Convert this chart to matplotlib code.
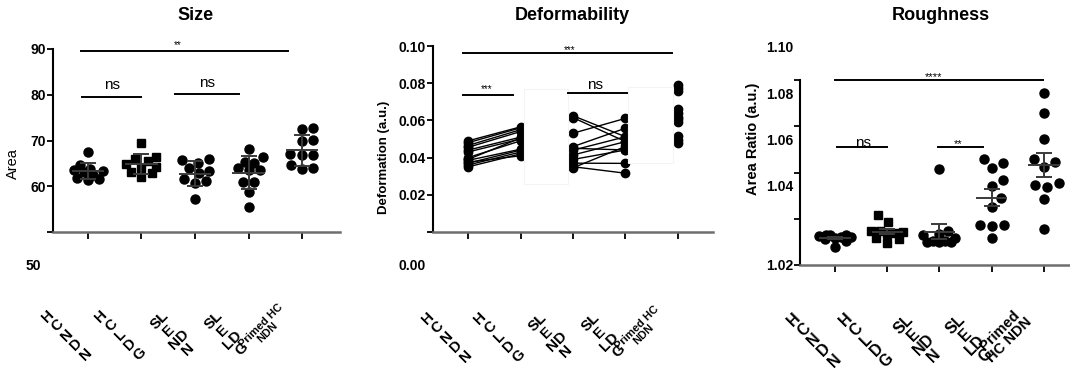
import numpy as np
import matplotlib.pyplot as plt
from matplotlib.transforms import ScaledTranslation
from matplotlib.patches import Rectangle

plt.rcParams['font.family'] = ['Liberation Sans', 'DejaVu Sans']

# x tick labels (stacked letters as in the original)
labels_a = ['H\nC\nN\nD\nN', 'H\nC\nL\nD\nG', 'SL\nE\nND\nN', 'SL\nE\nLD\nG', 'Primed HC\nNDN']
labels_b = ['H\nC\nN\nD\nN', 'H\nC\nL\nD\nG', 'SL\nE\nND\nN', 'SL\nE\nLD\nG', 'Primed\nHC NDN']

# Size (area)
size_g1 = [67.4, 64.6, 63.8, 63.6, 63.4, 63.2, 62.5, 61.8, 61.5, 61.3]
size_g2 = [69.5, 66.4, 66.0, 65.5, 64.8, 64.3, 64.0, 63.2, 62.8, 62.0]
size_g3 = [65.9, 65.8, 65.0, 63.9, 63.4, 62.8, 61.6, 61.2, 60.8, 57.2]
size_g4 = [68.2, 66.4, 65.4, 65.0, 63.9, 63.6, 63.5, 61.0, 61.0, 58.8, 55.5]
size_g5 = [72.7, 72.5, 70.1, 70.0, 67.0, 66.9, 66.8, 64.6, 63.9, 63.8]

# Deformability, paired 1-2 and 3-4
def_g1 = [0.0350, 0.0360, 0.0370, 0.0375, 0.0385, 0.0390, 0.0400, 0.0430, 0.0440, 0.0455, 0.0465, 0.0480, 0.0490]
def_g2 = [0.0420, 0.0430, 0.0440, 0.0410, 0.0445, 0.0505, 0.0490, 0.0500, 0.0510, 0.0540, 0.0550, 0.0560, 0.0565]
def_g3 = [0.0625, 0.0615, 0.0531, 0.0459, 0.0450, 0.0440, 0.0414, 0.0390, 0.0370, 0.0351, 0.0345]
def_g4 = [0.0512, 0.0486, 0.0611, 0.0558, 0.0441, 0.0512, 0.0486, 0.0441, 0.0369, 0.0316, 0.0460]
def_g5 = [0.0790, 0.0775, 0.0760, 0.0660, 0.0640, 0.0620, 0.0605, 0.0590, 0.0515, 0.0495, 0.0480]

# Roughness (area ratio)
rough_g1 = [1.0330, 1.0330, 1.0328, 1.0325, 1.0322, 1.0320, 1.0318, 1.0312, 1.0302, 1.0280]
rough_g2 = [1.0416, 1.0387, 1.0345, 1.0345, 1.0344, 1.0340, 1.0335, 1.0318, 1.0312, 1.0294]
rough_g3 = [1.0615, 1.0345, 1.0335, 1.0330, 1.0318, 1.0305, 1.0302, 1.0300, 1.0300, 1.0298]
rough_g4 = [1.0657, 1.0640, 1.0618, 1.0568, 1.0540, 1.0490, 1.0452, 1.0375, 1.0372, 1.0370, 1.0315]
rough_g5 = [1.0945, 1.0856, 1.0745, 1.0657, 1.0647, 1.0625, 1.0553, 1.0546, 1.0536, 1.0485, 1.0356]

W, H = 1070, 372
fig = plt.figure(figsize=(W / 100, H / 100), dpi=100)


def box(l, t, r, b):
    return [l / W, 1 - b / H, (r - l) / W, (b - t) / H]


def off(dx, dy):
    return ScaledTranslation(dx / 100, dy / 100, fig.dpi_scale_trans)


def swarm(ax, xc, vals, d=10, maxw=15):
    # simple beeswarm in pixel space, width limited (points may overlap like GraphPad)
    tr = ax.transData
    pts = tr.transform(np.column_stack([np.full(len(vals), xc), vals]))
    ppu = tr.transform((xc + 1, vals[0]))[0] - pts[0, 0]
    placed = []
    xs = np.zeros(len(vals))
    cands = [0]
    for k in range(1, maxw + 1):
        cands += [k, -k]
    for i in np.argsort(pts[:, 1]):
        y = pts[i, 1]
        best, bestd = 0, -1
        for o in cands:
            md = min([np.hypot(o - a, y - b) for a, b in placed] + [99])
            if md >= d:
                best = o
                break
            if md > bestd + 0.5:
                best, bestd = o, md
        placed.append((best, y))
        xs[i] = xc + best / ppu
    return xs


def style(ax):
    for s in ['top', 'right']:
        ax.spines[s].set_visible(False)
    ax.spines['left'].set_linewidth(1.5)
    ax.spines['bottom'].set_linewidth(1.8)
    ax.spines['bottom'].set_color('#6e6e6e')
    ax.tick_params(axis='y', length=4, width=1.3, labelsize=10, pad=1)
    ax.tick_params(axis='x', length=5, width=1.3, pad=0)
    for t in ax.get_yticklabels():
        t.set_fontweight('bold')


def sig(ax, x0, x1, y, txt, tx, ty, fs):
    ax.plot([x0, x1], [y, y], color='k', lw=1.4, clip_on=False, zorder=5)
    ax.text(tx, ty, txt, ha='center', va='center', fontsize=fs, clip_on=False, zorder=6)


def xlabels(ax, labs, dx, dy, last=None, fs=11):
    ax.set_xticks(range(5))
    ax.set_xticklabels(labs, rotation=45, rotation_mode='anchor', ha='center', va='center',
                       fontweight='bold', fontsize=fs, linespacing=0.95)
    for i, tk in enumerate(ax.xaxis.get_major_ticks()):
        lab = tk.label1
        if i == 4 and last is not None:
            lab.set_fontsize(last[2])
            lab.set_transform(lab.get_transform() + off(last[0], last[1]))
        else:
            lab.set_transform(lab.get_transform() + off(dx, dy))


def meanbar(ax, x, vals, sem=False, w=0.3):
    m = np.mean(vals)
    e = np.std(vals, ddof=1)
    if sem:
        e = e / np.sqrt(len(vals))
    ax.hlines(m, x - w, x + w, color='#3a3a3a', lw=1.4, zorder=4)
    ax.errorbar(x, m, yerr=e, color='#3a3a3a', lw=1.4, capsize=6, capthick=1.4, zorder=4)


# ---------- Size ----------
ax1 = fig.add_axes(box(53, 49, 340, 232))
ax1.set_xlim(-0.654, 4.71)
ax1.set_ylim(50, 90)
ax1.set_yticks([50, 60, 70, 80, 90])
style(ax1)
groups = [size_g1, size_g2, size_g3, size_g4, size_g5]
for i, g in enumerate(groups):
    mk = 's' if i == 1 else 'o'
    ax1.plot(swarm(ax1, i, g, 11, 15), g, mk, color='k', ms=6.5 if mk == 'o' else 6, zorder=3, clip_on=False)
    meanbar(ax1, i, g)
sig(ax1, -0.13, 3.74, 89.6, '**', 1.68, 90.9, 7)
sig(ax1, -0.11, 1.0, 79.6, 'ns', 0.45, 82.1, 11)
sig(ax1, 1.63, 2.82, 80.2, 'ns', 2.22, 82.6, 11)
ax1.set_ylabel('Area', fontsize=10.5)
ax1.yaxis.set_label_coords(-0.115, 0.372)
xlabels(ax1, labels_a, -21, -96, last=(-38, -90, 8))
tk = ax1.yaxis.get_major_ticks()[0].label1
tk.set_transform(tk.get_transform() + off(-5, -33))

# ---------- Deformability ----------
ax2 = fig.add_axes(box(433, 46, 713, 232))
ax2.set_xlim(-0.667, 4.667)
ax2.set_ylim(0, 0.10)
ax2.set_yticks([0, 0.02, 0.04, 0.06, 0.08, 0.10])
ax2.set_yticklabels(['0.00', '0.02', '0.04', '0.06', '0.08', '0.10'])
style(ax2)
for a, b in zip(def_g1, def_g2):
    ax2.plot([0, 1], [a, b], '-o', color='k', ms=6, lw=1, zorder=3)
for a, b in zip(def_g3, def_g4):
    ax2.plot([2, 3], [a, b], '-o', color='k', ms=6, lw=1, zorder=3)
ax2.plot(np.full(len(def_g5), 4), def_g5, 'o', color='k', ms=6, zorder=3)
ax2.add_patch(Rectangle((1.07, 0.0258), 0.83, 0.0511, fc='white', ec='#f4f4f4', lw=0.8, zorder=4))
ax2.add_patch(Rectangle((3.05, 0.0371), 0.85, 0.0409, fc='white', ec='#f4f4f4', lw=0.8, zorder=4))
sig(ax2, -0.10, 3.89, 0.0961, '***', 1.94, 0.0978, 7)
sig(ax2, -0.10, 0.86, 0.0737, '***', 0.36, 0.0770, 7)
sig(ax2, 1.90, 3.03, 0.0749, 'ns', 2.42, 0.0790, 11)
ax2.set_ylabel('Deformation (a.u.)', fontsize=9.5, fontweight='bold')
ax2.yaxis.set_label_coords(-0.154, 0.403)
xlabels(ax2, labels_a, -21, -98, last=(-38, -92, 8))
tk = ax2.yaxis.get_major_ticks()[0].label1
tk.set_transform(tk.get_transform() + off(0, -33))

# ---------- Roughness ----------
ax3 = fig.add_axes(box(800, 80, 1082, 265))
ax3.set_xlim(-0.67, 4.73)
ax3.set_ylim(1.02, 1.10)
ax3.set_yticks([1.02, 1.04, 1.06, 1.08, 1.10])
ax3.set_yticklabels(['1.02', '1.04', '1.06', '1.08', '1.10'])
style(ax3)
groups = [rough_g1, rough_g2, rough_g3, rough_g4, rough_g5]
for i, g in enumerate(groups):
    mk = 's' if i == 1 else 'o'
    ax3.plot(swarm(ax3, i, g, 12, 16), g, mk, color='k', ms=6.5 if mk == 'o' else 6, zorder=3)
    meanbar(ax3, i, g, sem=True)
sig(ax3, 0.0, 3.98, 1.10, '****', 1.88, 1.1013, 8)
sig(ax3, 0.04, 1.0, 1.0712, 'ns', 0.54, 1.0728, 11)
sig(ax3, 1.97, 2.83, 1.0712, '**', 2.35, 1.0723, 8)
ax3.set_ylabel('Area Ratio (a.u.)', fontsize=10.5, fontweight='bold')
ax3.yaxis.set_label_coords(-0.142, 0.681)
xlabels(ax3, labels_b, -21, -68, last=(-39, -63, 10.5), fs=11.5)
for i in range(1, 5):
    tk = ax3.yaxis.get_major_ticks()[i].label1
    tk.set_transform(tk.get_transform() + off(0, 33))

# titles
fig.text(196 / W, 1 - 16 / H, 'Size', ha='center', va='center', fontsize=13, fontweight='bold')
fig.text(572 / W, 1 - 16 / H, 'Deformability', ha='center', va='center', fontsize=13, fontweight='bold')
fig.text(941 / W, 1 - 16 / H, 'Roughness', ha='center', va='center', fontsize=13, fontweight='bold')

fig.savefig('out.png', dpi=100)
